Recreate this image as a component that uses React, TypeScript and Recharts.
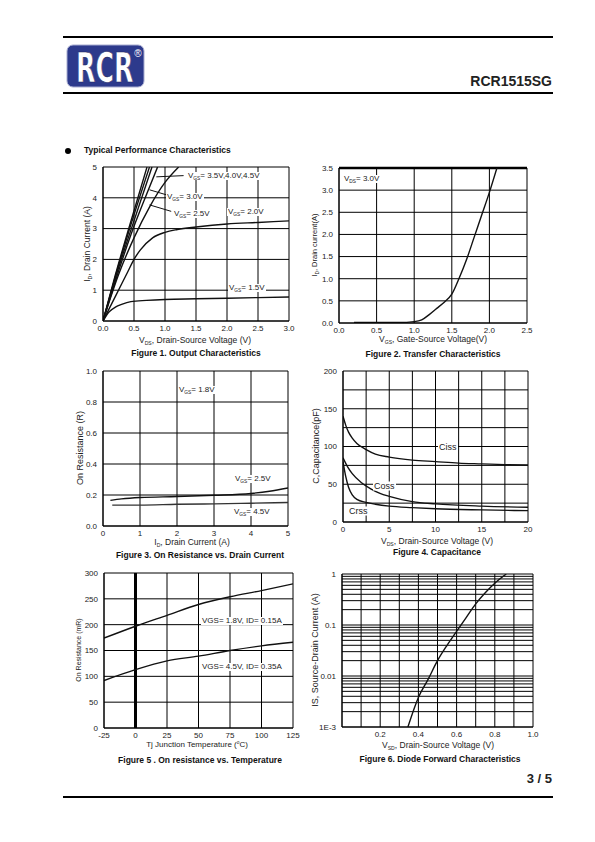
import React from 'react';
import { LineChart, Line, XAxis, YAxis, CartesianGrid, ReferenceLine } from 'recharts';

const FONT = 'Arial, "Liberation Sans", Helvetica, sans-serif';
const INK = '#111';

// ---- Figure 1: output characteristics (ID vs VDS) ----
const fig1XTicks = [0, 0.5, 1, 1.5, 2, 2.5, 3];
const fig1YTicks = [0, 1, 2, 3, 4, 5];
const fig1Vgs45 = [{ x: 0, y: 0 }, { x: 0.2, y: 1.5 }, { x: 0.4, y: 2.9 }, { x: 0.71, y: 5 }];
const fig1Vgs40 = [{ x: 0, y: 0 }, { x: 0.2, y: 1.45 }, { x: 0.4, y: 2.8 }, { x: 0.75, y: 5 }];
const fig1Vgs35 = [{ x: 0, y: 0 }, { x: 0.2, y: 1.4 }, { x: 0.4, y: 2.65 }, { x: 0.79, y: 5 }];
const fig1Vgs30 = [{ x: 0, y: 0 }, { x: 0.2, y: 1.3 }, { x: 0.45, y: 2.8 }, { x: 0.7, y: 4.1 }, { x: 0.88, y: 5 }];
const fig1Vgs25 = [{ x: 0, y: 0 }, { x: 0.25, y: 1.5 }, { x: 0.5, y: 2.7 }, { x: 0.75, y: 3.7 }, { x: 1.0, y: 4.5 }, { x: 1.22, y: 5 }];
const fig1Vgs20 = [
  { x: 0, y: 0 }, { x: 0.2, y: 0.8 }, { x: 0.4, y: 1.6 }, { x: 0.5, y: 2.0 }, { x: 0.6, y: 2.3 },
  { x: 0.8, y: 2.7 }, { x: 1.0, y: 2.88 }, { x: 1.2, y: 2.97 }, { x: 1.5, y: 3.05 }, { x: 2.0, y: 3.15 },
  { x: 2.5, y: 3.2 }, { x: 3.0, y: 3.25 },
];
const fig1Vgs15 = [
  { x: 0, y: 0 }, { x: 0.1, y: 0.3 }, { x: 0.2, y: 0.45 }, { x: 0.3, y: 0.54 }, { x: 0.45, y: 0.63 },
  { x: 0.7, y: 0.67 }, { x: 1.0, y: 0.7 }, { x: 1.5, y: 0.72 }, { x: 2.0, y: 0.74 }, { x: 3.0, y: 0.78 },
];

// ---- Figure 2: transfer characteristics ----
const fig2XTicks = [0, 0.5, 1, 1.5, 2, 2.5];
const fig2YTicks = [0, 0.5, 1, 1.5, 2, 2.5, 3, 3.5];
const fig2Id = [
  { x: 0.2, y: 0.01 }, { x: 0.8, y: 0.01 }, { x: 1.0, y: 0.03 }, { x: 1.1, y: 0.07 }, { x: 1.2, y: 0.19 },
  { x: 1.3, y: 0.33 }, { x: 1.4, y: 0.47 }, { x: 1.5, y: 0.65 }, { x: 1.6, y: 1.02 }, { x: 1.7, y: 1.45 },
  { x: 1.8, y: 1.95 }, { x: 1.9, y: 2.45 }, { x: 2.0, y: 2.95 }, { x: 2.1, y: 3.5 },
];

// ---- Figure 3: on resistance vs drain current ----
const fig3XTicks = [0, 1, 2, 3, 4, 5];
const fig3YTicks = [0, 0.2, 0.4, 0.6, 0.8, 1.0];
const fig3Vgs25 = [
  { x: 0.2, y: 0.165 }, { x: 0.5, y: 0.175 }, { x: 1, y: 0.184 }, { x: 2, y: 0.19 }, { x: 3, y: 0.198 },
  { x: 4, y: 0.21 }, { x: 4.5, y: 0.224 }, { x: 5, y: 0.245 },
];
const fig3Vgs45 = [
  { x: 0.25, y: 0.135 }, { x: 1, y: 0.135 }, { x: 2, y: 0.14 }, { x: 3, y: 0.143 }, { x: 4, y: 0.147 }, { x: 5, y: 0.152 },
];

// ---- Figure 4: capacitance ----
const fig4XTicks = [0, 2.5, 5, 7.5, 10, 12.5, 15, 17.5, 20];
const fig4XLabels = ['0', '', '5', '', '10', '', '15', '', '20'];
const fig4YTicks = [0, 25, 50, 75, 100, 125, 150, 175, 200];
const fig4YLabels = ['0', '', '50', '', '100', '', '150', '', '200'];
const fig4Ciss = [
  { x: 0, y: 140 }, { x: 0.3, y: 128 }, { x: 0.6, y: 119 }, { x: 1, y: 111 }, { x: 1.5, y: 104 },
  { x: 2.5, y: 96 }, { x: 3.5, y: 90 }, { x: 5, y: 86 }, { x: 7.5, y: 82 }, { x: 10, y: 80 },
  { x: 12.5, y: 78 }, { x: 15, y: 77 }, { x: 17.5, y: 76 }, { x: 20, y: 75.5 },
];
const fig4Coss = [
  { x: 0, y: 85 }, { x: 0.5, y: 73 }, { x: 1, y: 64 }, { x: 2, y: 52 }, { x: 3, y: 44 }, { x: 4, y: 38 },
  { x: 5, y: 34 }, { x: 7.5, y: 27 }, { x: 10, y: 24 }, { x: 15, y: 21 }, { x: 20, y: 19.5 },
];
const fig4Crss = [
  { x: 0, y: 80 }, { x: 0.3, y: 60 }, { x: 0.6, y: 46 }, { x: 1, y: 36 }, { x: 1.5, y: 30 }, { x: 2.5, y: 26 },
  { x: 3.5, y: 23.5 }, { x: 5, y: 21 }, { x: 7.5, y: 19 }, { x: 10, y: 17.5 }, { x: 15, y: 16 }, { x: 20, y: 15 },
];

// ---- Figure 5: on resistance vs temperature ----
const fig5XTicks = [-25, 0, 25, 50, 75, 100, 125];
const fig5YTicks = [0, 50, 100, 150, 200, 250, 300];
const fig5Vgs18 = [
  { x: -25, y: 174 }, { x: 0, y: 197 }, { x: 25, y: 218 }, { x: 50, y: 239 }, { x: 75, y: 254 }, { x: 100, y: 266 }, { x: 125, y: 279 },
];
const fig5Vgs45 = [
  { x: -25, y: 92 }, { x: 0, y: 113 }, { x: 25, y: 130 }, { x: 50, y: 139 }, { x: 75, y: 150 }, { x: 100, y: 159 }, { x: 125, y: 166 },
];

// ---- Figure 6: diode forward characteristics ----
const fig6XTicks = [0, 0.1, 0.2, 0.3, 0.4, 0.5, 0.6, 0.7, 0.8, 0.9, 1.0];
const fig6XLabels = ['', '', '0.2', '', '0.4', '', '0.6', '', '0.8', '', '1.0'];
const fig6YTicks = [
  0.001, 0.002, 0.003, 0.004, 0.005, 0.006, 0.007, 0.008, 0.009,
  0.01, 0.02, 0.03, 0.04, 0.05, 0.06, 0.07, 0.08, 0.09,
  0.1, 0.2, 0.3, 0.4, 0.5, 0.6, 0.7, 0.8, 0.9, 1,
];
const fig6YLabels: Record<string, string> = { '0.001': '1E-3', '0.01': '0.01', '0.1': '0.1', '1': '1' };
const fig6Is = [
  { x: 0.345, y: 0.001 }, { x: 0.4, y: 0.0038 }, { x: 0.45, y: 0.0085 }, { x: 0.5, y: 0.02 }, { x: 0.55, y: 0.04 },
  { x: 0.6, y: 0.075 }, { x: 0.65, y: 0.14 }, { x: 0.7, y: 0.26 }, { x: 0.75, y: 0.43 }, { x: 0.8, y: 0.66 }, { x: 0.86, y: 1.0 },
];

const PAD_L = 40, PAD_T = 8, PAD_R = 12, PAD_B = 20;

function frame(x0: number, y0: number, x1: number, y1: number) {
  return {
    style: { position: 'absolute' as const, left: x0 - PAD_L, top: y0 - PAD_T },
    width: x1 - x0 + PAD_L + PAD_R,
    height: y1 - y0 + PAD_T + PAD_B,
  };
}

const margin = { top: PAD_T, right: PAD_R, bottom: 0, left: 0 };
const tickStyle = { fontSize: 8, fill: '#222', fontFamily: FONT };
const axisLine = { stroke: '#000', strokeWidth: 1 };

const xAxisProps = {
  type: 'number' as const, dataKey: 'x', height: PAD_B, tick: tickStyle, tickLine: false,
  tickSize: 2, axisLine, interval: 0 as const, allowDataOverflow: true,
};
const yAxisProps = {
  type: 'number' as const, width: PAD_L, tick: tickStyle, tickLine: false,
  tickSize: 4, axisLine, interval: 0 as const, allowDataOverflow: true,
};
const curve = { type: 'monotone' as const, dataKey: 'y', stroke: INK, strokeWidth: 1.4, dot: false, isAnimationActive: false };

function Sub({ children }: { children: React.ReactNode }) {
  return <span style={{ fontSize: '0.6em', position: 'relative', top: '0.35em' }}>{children}</span>;
}

function Note({ x, y, size = 8, children }: { x: number; y: number; size?: number; children: React.ReactNode }) {
  return (
    <div style={{
      position: 'absolute', left: x, top: y, transform: 'translateY(-50%)', background: '#fff',
      fontSize: size, lineHeight: 1, whiteSpace: 'nowrap', color: '#222', padding: '0 1px',
    }}>{children}</div>
  );
}

function XTitle({ x, y, size = 8.5, children }: { x: number; y: number; size?: number; children: React.ReactNode }) {
  return (
    <div style={{
      position: 'absolute', left: x, top: y, transform: 'translate(-50%,-50%)', fontSize: size,
      lineHeight: 1, whiteSpace: 'nowrap', color: '#222',
    }}>{children}</div>
  );
}

function YTitle({ x, y, size = 8.5, children }: { x: number; y: number; size?: number; children: React.ReactNode }) {
  return (
    <div style={{
      position: 'absolute', left: x, top: y, transform: 'translate(-50%,-50%) rotate(-90deg)', fontSize: size,
      lineHeight: 1, whiteSpace: 'nowrap', color: '#222',
    }}>{children}</div>
  );
}

function Caption({ x, y, children }: { x: number; y: number; children: React.ReactNode }) {
  return (
    <div style={{
      position: 'absolute', left: x, top: y, transform: 'translate(-50%,-50%)', fontSize: 8.5,
      fontWeight: 'bold', lineHeight: 1, whiteSpace: 'nowrap', color: '#111',
    }}>{children}</div>
  );
}

function Logo() {
  return (
    <svg width={84} height={60} style={{ position: 'absolute', left: 66, top: 38 }}>
      <rect x={1} y={7} width={77} height={42} rx={6} fill="#2d3a8c" stroke="#a8acd0" strokeWidth={1} />
      <text transform="translate(10,44) scale(0.7,1.02)" fontSize={40} fontWeight="bold"
        fill="#fff" stroke="#1d2560" strokeWidth={0.6}
        fontFamily='"DejaVu Sans Condensed", "Liberation Sans Narrow", sans-serif'>RCR</text>
      <text x={72} y={19} fontSize={10} fill="#fff" textAnchor="middle" fontFamily={FONT}>®</text>
    </svg>
  );
}

export default function App() {
  const f1 = frame(103, 167, 289, 321);
  const f2 = frame(339, 168, 527, 323);
  const f3 = frame(103, 371, 288, 526);
  const f4 = frame(343, 371, 528, 522);
  const f5 = frame(104, 573, 293, 728);
  const f6 = frame(342, 574, 533, 727);

  return (
    <div style={{ position: 'absolute', left: 0, top: 0, width: 595, height: 842, background: '#fff', fontFamily: FONT, overflow: 'hidden' }}>
      {/* header */}
      <div style={{ position: 'absolute', left: 63, top: 36, width: 490, height: 2, background: '#000' }} />
      <div style={{ position: 'absolute', left: 63, top: 92, width: 490, height: 2, background: '#000' }} />
      <Logo />
      <div style={{ position: 'absolute', right: 43, top: 74, fontSize: 14, fontWeight: 'bold', color: '#222', lineHeight: 1 }}>RCR1515SG</div>

      {/* section title */}
      <div style={{ position: 'absolute', left: 65, top: 148, width: 6, height: 6, borderRadius: 3, background: '#000' }} />
      <div style={{ position: 'absolute', left: 84, top: 146, fontSize: 8.5, fontWeight: 'bold', color: '#111', lineHeight: 1 }}>
        Typical Performance Characteristics
      </div>

      {/* Figure 1 */}
      <div style={f1.style}>
        <LineChart width={f1.width} height={f1.height} margin={margin}>
          <CartesianGrid stroke="#000" strokeWidth={1} />
          <XAxis {...xAxisProps} domain={[0, 3]} ticks={fig1XTicks} tickFormatter={(v: number) => v.toFixed(1)} />
          <YAxis {...yAxisProps} domain={[0, 5]} ticks={fig1YTicks} />
          <ReferenceLine segment={[{ x: 0.86, y: 4.68 }, { x: 1.3, y: 4.72 }]} stroke={INK} strokeWidth={1} />
          <ReferenceLine segment={[{ x: 0.75, y: 4.26 }, { x: 1.1, y: 4.05 }]} stroke={INK} strokeWidth={1} />
          <ReferenceLine segment={[{ x: 0.75, y: 3.77 }, { x: 1.1, y: 3.56 }]} stroke={INK} strokeWidth={1} />
          <Line {...curve} data={fig1Vgs45} />
          <Line {...curve} data={fig1Vgs40} />
          <Line {...curve} data={fig1Vgs35} />
          <Line {...curve} data={fig1Vgs30} />
          <Line {...curve} data={fig1Vgs25} />
          <Line {...curve} data={fig1Vgs20} />
          <Line {...curve} data={fig1Vgs15} />
        </LineChart>
      </div>
      <Note x={187} y={176}>V<Sub>GS</Sub>= 3.5V,4.0V,4.5V</Note>
      <Note x={166} y={197}>V<Sub>GS</Sub>= 3.0V</Note>
      <Note x={173} y={214}>V<Sub>GS</Sub>= 2.5V</Note>
      <Note x={227} y={212}>V<Sub>GS</Sub>= 2.0V</Note>
      <Note x={228} y={288}>V<Sub>GS</Sub>= 1.5V</Note>
      <YTitle x={87} y={244}>I<Sub>D</Sub>, Drain Current (A)</YTitle>
      <XTitle x={195} y={340}>V<Sub>DS</Sub>, Drain-Source Voltage (V)</XTitle>
      <Caption x={196} y={353}>Figure 1. Output Characteristics</Caption>

      {/* Figure 2 */}
      <div style={f2.style}>
        <LineChart width={f2.width} height={f2.height} margin={margin}>
          <CartesianGrid stroke="#000" strokeWidth={1} />
          <XAxis {...xAxisProps} domain={[0, 2.5]} ticks={fig2XTicks} tickFormatter={(v: number) => v.toFixed(1)} />
          <YAxis {...yAxisProps} domain={[0, 3.5]} ticks={fig2YTicks} tickFormatter={(v: number) => v.toFixed(1)} />
          <ReferenceLine y={3.5} stroke="#000" strokeWidth={2.5} />
          <Line {...curve} data={fig2Id} />
        </LineChart>
      </div>
      <Note x={343} y={179}>V<Sub>DS</Sub>= 3.0V</Note>
      <YTitle x={315} y={245} size={7.5}>I<Sub>D</Sub>, Drain current(A)</YTitle>
      <XTitle x={433} y={339}>V<Sub>GS</Sub>, Gate-Source Voltage(V)</XTitle>
      <Caption x={433} y={354}>Figure 2. Transfer Characteristics</Caption>

      {/* Figure 3 */}
      <div style={f3.style}>
        <LineChart width={f3.width} height={f3.height} margin={margin}>
          <CartesianGrid stroke="#000" strokeWidth={1} />
          <XAxis {...xAxisProps} domain={[0, 5]} ticks={fig3XTicks} />
          <YAxis {...yAxisProps} domain={[0, 1]} ticks={fig3YTicks} tickFormatter={(v: number) => v.toFixed(1)} />
          <Line {...curve} data={fig3Vgs25} />
          <Line {...curve} data={fig3Vgs45} stroke="#333" />
        </LineChart>
      </div>
      <Note x={178} y={390}>V<Sub>GS</Sub>= 1.8V</Note>
      <Note x={234} y={479}>V<Sub>GS</Sub>= 2.5V</Note>
      <Note x={233} y={512}>V<Sub>GS</Sub>= 4.5V</Note>
      <YTitle x={80} y={448} size={9}>On Resistance (R)</YTitle>
      <XTitle x={192} y={542}>I<Sub>D</Sub>, Drain Current (A)</XTitle>
      <Caption x={200} y={555}>Figure 3. On Resistance vs. Drain Current</Caption>

      {/* Figure 4 */}
      <div style={f4.style}>
        <LineChart width={f4.width} height={f4.height} margin={margin}>
          <CartesianGrid stroke="#000" strokeWidth={1} />
          <XAxis {...xAxisProps} domain={[0, 20]} ticks={fig4XTicks} tickFormatter={(_v: number, i: number) => fig4XLabels[i]} />
          <YAxis {...yAxisProps} domain={[0, 200]} ticks={fig4YTicks} tickFormatter={(_v: number, i: number) => fig4YLabels[i]} />
          <Line {...curve} data={fig4Ciss} />
          <Line {...curve} data={fig4Coss} />
          <Line {...curve} data={fig4Crss} />
        </LineChart>
      </div>
      <Note x={438} y={447} size={9}>Ciss</Note>
      <Note x={373} y={486} size={9}>Coss</Note>
      <Note x={348} y={511} size={9}>Crss</Note>
      <YTitle x={316} y={446} size={9}>C,Capacitance(pF)</YTitle>
      <XTitle x={437} y={541}>V<Sub>DS</Sub>, Drain-Source Voltage (V)</XTitle>
      <Caption x={437} y={552}>Figure 4. Capacitance</Caption>

      {/* Figure 5 */}
      <div style={f5.style}>
        <LineChart width={f5.width} height={f5.height} margin={margin}>
          <CartesianGrid stroke="#000" strokeWidth={1} />
          <XAxis {...xAxisProps} domain={[-25, 125]} ticks={fig5XTicks} />
          <YAxis {...yAxisProps} domain={[0, 300]} ticks={fig5YTicks} />
          <ReferenceLine x={0} stroke="#000" strokeWidth={3} />
          <Line {...curve} data={fig5Vgs18} />
          <Line {...curve} data={fig5Vgs45} />
        </LineChart>
      </div>
      <Note x={201} y={621}>VGS= 1.8V, ID= 0.15A</Note>
      <Note x={201} y={667}>VGS= 4.5V, ID= 0.35A</Note>
      <YTitle x={78} y={650} size={7}>On Resistance (mR)</YTitle>
      <XTitle x={197} y={745} size={8}>Tj Junction Temperature (<sup style={{ fontSize: '0.6em' }}>o</sup>C)</XTitle>
      <Caption x={200} y={760}>Figure 5 . On resistance vs. Temperature</Caption>

      {/* Figure 6 */}
      <div style={f6.style}>
        <LineChart width={f6.width} height={f6.height} margin={margin}>
          <CartesianGrid stroke="#000" strokeWidth={1} />
          <XAxis {...xAxisProps} domain={[0, 1]} ticks={fig6XTicks} tickFormatter={(_v: number, i: number) => fig6XLabels[i]} />
          <YAxis {...yAxisProps} scale="log" domain={[0.001, 1]} ticks={fig6YTicks}
            tickFormatter={(v: number) => fig6YLabels[String(v)] ?? ''} />
          <Line {...curve} data={fig6Is} />
        </LineChart>
      </div>
      <YTitle x={315} y={650} size={9}>IS, Source-Drain Current (A)</YTitle>
      <XTitle x={438} y={745}>V<Sub>SD</Sub>, Drain-Source Voltage (V)</XTitle>
      <Caption x={440} y={759}>Figure 6. Diode Forward Characteristics</Caption>

      {/* footer */}
      <div style={{ position: 'absolute', right: 43, top: 772, fontSize: 13, fontWeight: 'bold', color: '#222', lineHeight: 1 }}>3 / 5</div>
      <div style={{ position: 'absolute', left: 63, top: 796, width: 490, height: 2, background: '#000' }} />
    </div>
  );
}
